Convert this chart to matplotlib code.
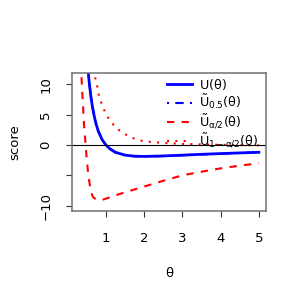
import matplotlib
matplotlib.use("Agg")
import matplotlib.pyplot as plt

plt.rcParams['font.family'] = ['DejaVu Sans']
plt.rcParams['mathtext.fontset'] = 'custom'
plt.rcParams['mathtext.rm'] = 'DejaVu Sans'
plt.rcParams['mathtext.it'] = 'DejaVu Sans'
plt.rcParams['mathtext.bf'] = 'DejaVu Sans:bold'

# score curves
theta_u = [0.50, 0.53, 0.56, 0.60, 0.65, 0.70, 0.75, 0.80, 0.90, 1.00, 1.10,
           1.25, 1.50, 1.75, 2.00, 2.50, 3.00, 3.50, 4.00, 4.50, 5.00]
u = [15.0, 12.5, 10.5, 8.3, 6.2, 4.6, 3.3, 2.3, 0.9, 0.0, -0.6,
     -1.2, -1.67, -1.84, -1.88, -1.8, -1.67, -1.53, -1.41, -1.3, -1.2]
u_half = [15.1, 12.6, 10.6, 8.35, 6.2, 4.55, 3.25, 2.25, 0.85, -0.05, -0.65,
          -1.25, -1.7, -1.86, -1.9, -1.82, -1.69, -1.55, -1.42, -1.31, -1.21]

theta_lo = [0.33, 0.355, 0.37, 0.40, 0.43, 0.47, 0.50, 0.54, 0.60, 0.66, 0.75,
            0.83, 0.90, 1.00, 1.25, 1.50, 2.00, 2.50, 3.00, 3.50, 4.00, 4.50, 5.00]
u_lo = [16.0, 12.0, 10.0, 6.5, 3.0, 0.0, -2.5, -5.0, -7.5, -8.6, -9.0,
        -9.1, -9.05, -8.85, -8.3, -7.8, -6.85, -5.9, -5.0, -4.4, -3.85, -3.4, -3.0]

theta_hi = [0.66, 0.685, 0.75, 0.82, 0.89, 0.96, 1.05, 1.16, 1.28, 1.45, 1.62,
            1.80, 2.00, 2.50, 3.00, 3.50, 4.00, 4.50, 5.00]
u_hi = [12.5, 11.8, 10.5, 8.0, 6.8, 5.7, 4.6, 3.6, 2.75, 2.0, 1.37,
        0.93, 0.6, 0.35, 0.2, 0.1, 0.03, -0.02, -0.05]

fs = 9.5

fig = plt.figure(figsize=(3.03, 3.03), dpi=100)
ax = fig.add_axes([0.2386, 0.3046, 0.877 - 0.2386, 0.758 - 0.3046])

ax.plot(theta_u, u, color='#0000FF', lw=2.0, label=r'$\mathrm{U}(\theta)$')
ax.plot(theta_u, u_half, color='#0000FF', lw=1.5, dashes=(1, 3, 4, 3),
        label=r'$\tilde{\mathrm{U}}_{0.5}(\theta)$')
ax.plot(theta_lo, u_lo, color='#FF0000', lw=1.5, dashes=(3.5, 3.5),
        label=r'$\tilde{\mathrm{U}}_{\alpha/2}(\theta)$')
ax.plot(theta_hi, u_hi, color='#FF0000', lw=1.5, dashes=(1, 3),
        label=r'$\tilde{\mathrm{U}}_{1-\alpha/2}(\theta)$')
ax.axhline(0, color='black', lw=0.8)

ax.set_xlim(0.12, 5.18)
ax.set_ylim(-10.84, 11.84)
ax.set_xticks([1, 2, 3, 4, 5])
ax.set_yticks([-10, -5, 0, 5, 10])
ax.set_yticklabels(['\u221210', '', '0', '5', '10'], rotation=90, va='center')
ax.tick_params(length=4.5, width=0.8, color='#333333', labelsize=fs)
ax.tick_params(axis='x', pad=11)
ax.tick_params(axis='y', pad=10)
for s in ax.spines.values():
    s.set_color('#707070')
    s.set_linewidth(1.1)

ax.set_xlabel('θ', fontsize=fs, labelpad=16)
ax.set_ylabel('score', fontsize=fs, labelpad=13)

ax.legend(loc='upper right', bbox_to_anchor=(0.97, 0.985), frameon=False,
          fontsize=9.2, handlelength=1.9, handletextpad=0.6, labelspacing=0.1,
          borderaxespad=0.0, borderpad=0.1)

fig.savefig('out.png', dpi=100)
